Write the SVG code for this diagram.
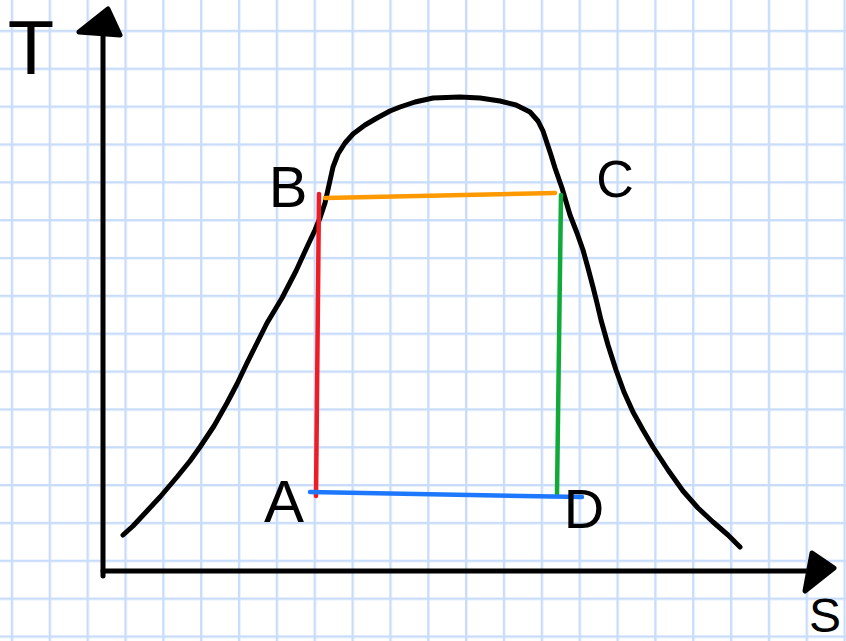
<svg xmlns="http://www.w3.org/2000/svg" width="846" height="641" viewBox="0 0 846 641">
  <defs>
    <pattern id="grid" patternUnits="userSpaceOnUse" x="10.8" y="29.8" width="37.85" height="37.85">
      <rect x="0" y="0" width="2.4" height="37.85" fill="#c9ddfa"/>
      <rect x="0" y="0" width="37.85" height="2.4" fill="#c9ddfa"/>
    </pattern>
  </defs>
  <style>
    .ink { fill: none; stroke: #000; stroke-width: 5; stroke-linecap: round; stroke-linejoin: round; }
    .head { fill: #000; stroke: #000; stroke-width: 5; stroke-linejoin: round; }
    .seg { fill: none; stroke-width: 4.5; stroke-linecap: round; }
    .lbl { font-family: "Liberation Sans", Arial, sans-serif; fill: #000; text-anchor: middle; }
  </style>
  <rect x="0" y="0" width="846" height="641" fill="#ffffff"/>
  <rect x="0" y="0" width="846" height="641" fill="url(#grid)"/>

  <g id="axes">
    <line class="ink" x1="103" y1="28" x2="103" y2="576"/>
    <polygon class="head" points="108,9 120,35 79,32"/>
    <line class="ink" x1="103" y1="571" x2="815" y2="571"/>
    <polygon class="head" points="812,553 834,568 805,591"/>
    <text class="lbl" x="31" y="74" font-size="76">T</text>
    <text class="lbl" x="825" y="632" font-size="48">S</text>
  </g>

  <g id="dome">
    <path class="ink" d="M123,535 L133,526 L147,511 L160,497 L177,477 L190,461 L200,447 L214,426 L227,403 L237,384 L247,363 L257,343 L267,323 L282,298 L296,271 L307,247 L315,230 L320,218 L325,203 L329,185 L333,167 L338,154 L345,143 L353,134 L365,125 L377,118 L390,111 L400,107 L415,102 L433,98 L460,97 L480,98 L500,101 L516,105 L530,112 L538,121 L543,131 L547,143 L551,155 L555,168 L562,188 L570,215 L577,233 L583,250 L588,268 L593,287 L597,303 L601,320 L608,345 L616,370 L624,392 L633,412 L643,430 L653,447 L668,470 L683,491 L698,508 L713,522 L728,535 L740,547"/>
  </g>

  <g id="connectors">
    <line class="seg" stroke="#ff9900" x1="325" y1="198" x2="555" y2="193"/>
    <line class="seg" stroke="#ee1c24" x1="319" y1="194" x2="316" y2="496"/>
    <line class="seg" stroke="#10aa3a" x1="561" y1="195" x2="557" y2="494"/>
    <line class="seg" stroke="#1e78ff" stroke-width="5" x1="310" y1="492" x2="582" y2="497"/>
  </g>

  <g id="node-A"><text class="lbl" x="284" y="522" font-size="60">A</text></g>
  <g id="node-B"><text class="lbl" x="288" y="207" font-size="58">B</text></g>
  <g id="node-C"><text class="lbl" x="615" y="197" font-size="52">C</text></g>
  <g id="node-D"><text class="lbl" x="584" y="528" font-size="56">D</text></g>
</svg>
